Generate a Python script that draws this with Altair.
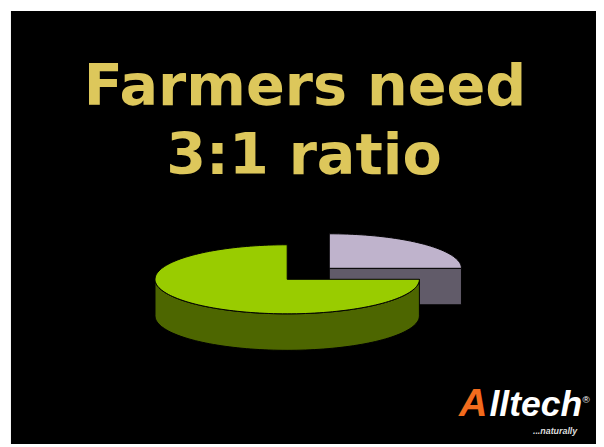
import math
import altair as alt
import pandas as pd

# ---- data ----
categories = ["3 parts", "1 part"]
values = [3, 1]
top_colors = ["#99CC00", "#BFB3CC"]
side_colors = ["#4D6600", "#615B69"]
explode = [0.0, 0.45]
title_lines = ["Farmers need", "3:1 ratio"]
logo_mark = ["A"]
logo_word = ["lltech"]
logo_reg = ["®"]
logo_tag = ["...naturally"]

# ---- layout (plot-area pixels) ----
W, H = 593, 439
CX, CY = 280, 272          # pie centre
RX, RY = 134, 35           # ellipse radii
DEPTH = 37 / RY            # thickness in unit-v
START = 0.0                # 3 o'clock, slices run clockwise
N = 180

total = sum(values)
slices = []
cum = 0.0
for cat, val, tc, sc, ex in zip(categories, values, top_colors, side_colors, explode):
    a0 = START - cum / total * 2 * math.pi
    a1 = a0 - val / total * 2 * math.pi
    cum += val
    mid = (a0 + a1) / 2
    slices.append(dict(cat=cat, a0=a0, a1=a1, tc=tc, sc=sc,
                       eu=ex * math.cos(mid), ev=ex * math.sin(mid)))
slices.sort(key=lambda s: -s["ev"])  # back to front

rows = []
faces = []


def add_face(fid, pts, fill):
    faces.append((fid, fill))
    for i, (u, v) in enumerate(pts):
        rows.append(dict(face=fid, i=i, u=u, v=v))


def arc(eu, ev, lo, hi, dv=0.0):
    n = max(2, int(N * (hi - lo) / (2 * math.pi)) + 1)
    return [(eu + math.cos(lo + (hi - lo) * k / (n - 1)),
             ev + math.sin(lo + (hi - lo) * k / (n - 1)) + dv) for k in range(n)]


for s in slices:
    eu, ev, a0, a1 = s["eu"], s["ev"], s["a0"], s["a1"]
    # radial cut faces
    for a, vis in ((a1, math.cos(a1) > 1e-9), (a0, math.cos(a0) < -1e-9)):
        if vis:
            p = (eu + math.cos(a), ev + math.sin(a))
            add_face(f"{s['cat']}-cut{a:.3f}",
                     [(eu, ev), p, (p[0], p[1] - DEPTH), (eu, ev - DEPTH), (eu, ev)], s["sc"])
    # outer curved side (front half only)
    for k in range(-2, 2):
        lo = max(a1, -math.pi + 2 * math.pi * k)
        hi = min(a0, 2 * math.pi * k)
        if hi - lo > 1e-9:
            top = arc(eu, ev, lo, hi)
            bot = arc(eu, ev, lo, hi, -DEPTH)[::-1]
            add_face(f"{s['cat']}-side{k}", top + bot + [top[0]], s["sc"])
    # top face
    add_face(f"{s['cat']}-top", [(eu, ev)] + arc(eu, ev, a1, a0) + [(eu, ev)], s["tc"])

df = pd.DataFrame(rows)

x = alt.X("u:Q", scale=alt.Scale(domain=[-CX / RX, (W - CX) / RX], nice=False, zero=False), axis=None)
y = alt.Y("v:Q", scale=alt.Scale(domain=[(CY - H) / RY, CY / RY], nice=False, zero=False), axis=None)

layers = []
for fid, fill in faces:
    layers.append(
        alt.Chart(df).transform_filter(alt.datum.face == fid)
        .mark_line(fill=fill, stroke="#000000", strokeWidth=1, strokeJoin="round")
        .encode(x=x, y=y, order="i:Q")
    )


def text_layer(vals, px, py, **kw):
    return alt.Chart(pd.DataFrame({"t": vals})).mark_text(**kw).encode(
        text="t:N", x=alt.value(px), y=alt.value(py))


gold = "#DDC75B"
layers.append(text_layer([title_lines[0]], 298, 95, font="DejaVu Sans", fontWeight="bold",
                         fontSize=58, color=gold, align="center", baseline="alphabetic"))
layers.append(text_layer([title_lines[1]], 297, 165, font="DejaVu Sans", fontWeight="bold",
                         fontSize=58, color=gold, align="center", baseline="alphabetic"))
layers.append(text_layer(logo_mark, 483, 411, font="Liberation Sans", fontWeight="bold",
                         fontStyle="italic", fontSize=40, color="#F26B1D", align="right",
                         baseline="alphabetic"))
layers.append(text_layer(logo_word, 485, 411, font="Liberation Sans", fontWeight="bold",
                         fontStyle="italic", fontSize=36, color="#FFFFFF", align="left",
                         baseline="alphabetic"))
layers.append(text_layer(logo_reg, 583, 397, font="Liberation Sans", fontSize=10,
                         color="#FFFFFF", align="center", baseline="alphabetic"))
layers.append(text_layer(logo_tag, 574, 429, font="Liberation Sans", fontWeight="bold",
                         fontStyle="italic", fontSize=9, color="#DDDDDD", align="right",
                         baseline="alphabetic"))

chart = alt.layer(*layers).properties(
    width=W, height=H,
    padding={"left": 3, "top": 0, "right": 0, "bottom": 0},
    autosize=alt.AutoSizeParams(type="none"),
    background="#FFFFFF",
).configure_view(fill="#000000", strokeWidth=0)

chart.save("out.html", embed_options={"renderer": "svg", "actions": False})
